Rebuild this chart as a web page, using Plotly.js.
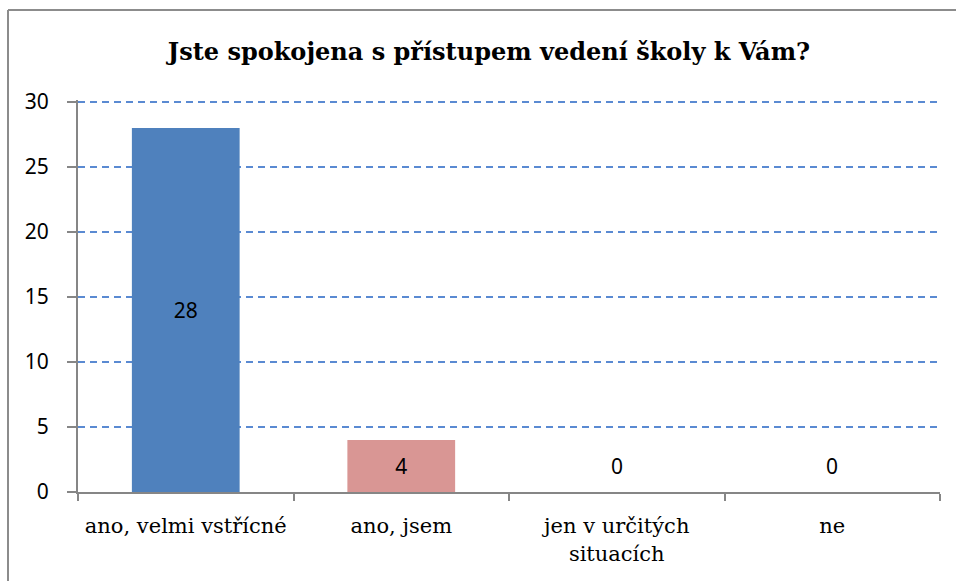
<!DOCTYPE html>
<html>
<head>
<meta charset="utf-8">
<script src="https://cdn.plot.ly/plotly-3.0.1.min.js"></script>
<style>html,body{margin:0;padding:0;background:#fff;}#chart{width:956px;height:581px;}</style>
</head>
<body>
<div id="chart"></div>
<script>
const categories = ["ano, velmi vstřícné", "ano, jsem", "jen v určitých<br>situacích", "ne"];
const values = [28, 4, 0, 0];
const barColors = ["#4F81BD", "#D99694", "#4F81BD", "#4F81BD"];
const titleText = "Jste spokojena s přístupem vedení školy k Vám?";
const yTickValues = [0, 5, 10, 15, 20, 25, 30];

const serif = "DejaVu Serif";
const sans = "Noto Sans";

const trace = {
  type: "bar",
  x: categories,
  y: values,
  marker: {color: barColors, line: {width: 0}},
  text: values.map(v => v === 0 ? "" : String(v)),
  textposition: "inside",
  insidetextanchor: "middle",
  textangle: 0,
  textfont: {family: sans, size: 21, color: "#000"},
  hoverinfo: "skip"
};

const zeroAnnotations = categories
  .map((c, i) => ({c, v: values[i]}))
  .filter(d => d.v === 0)
  .map(d => ({
    x: d.c, y: d.v, xref: "x", yref: "y",
    text: String(d.v), showarrow: false,
    yanchor: "middle", yshift: 26,
    font: {family: sans, size: 21, color: "#000"}
  }));

const layout = {
  width: 956, height: 581,
  margin: {l: 78, r: 16, t: 100, b: 89},
  paper_bgcolor: "#fff", plot_bgcolor: "#fff",
  showlegend: false,
  bargap: 0.5,
  title: {
    text: "<b>" + titleText + "</b>",
    x: 0.5115, xanchor: "center", xref: "container",
    y: 0.9105, yanchor: "middle", yref: "container",
    font: {family: serif, size: 24, color: "#000"}
  },
  xaxis: {
    type: "category",
    showline: true, linecolor: "#868686", linewidth: 2,
    ticks: "outside", tickson: "boundaries", ticklen: 7, tickcolor: "#868686", tickwidth: 2,
    ticklabelstandoff: 14,
    showgrid: false, zeroline: false,
    tickfont: {family: serif, size: 21, color: "#000"}
  },
  yaxis: {
    range: [0, 30.154], tickvals: yTickValues,
    showline: true, linecolor: "#868686", linewidth: 2,
    ticks: "outside", ticklen: 9, tickcolor: "#868686", tickwidth: 2,
    ticklabelstandoff: 14,
    showgrid: true, gridcolor: "#5A8AD2", gridwidth: 1.5, griddash: "7px,5px",
    zeroline: false,
    tickfont: {family: sans, size: 21, color: "#000"}
  },
  annotations: zeroAnnotations,
  shapes: [
    {type: "line", xref: "paper", yref: "paper", x0: -0.0812, x1: 1.1, y0: 1.2296, y1: 1.2296,
     line: {color: "#8C8C8C", width: 2}},
    {type: "line", xref: "paper", yref: "paper", x0: -0.0812, x1: -0.0812, y0: 1.2296, y1: -0.3,
     line: {color: "#8C8C8C", width: 2}}
  ]
};

Plotly.newPlot("chart", [trace], layout, {displayModeBar: false, staticPlot: true});
</script>
</body>
</html>
